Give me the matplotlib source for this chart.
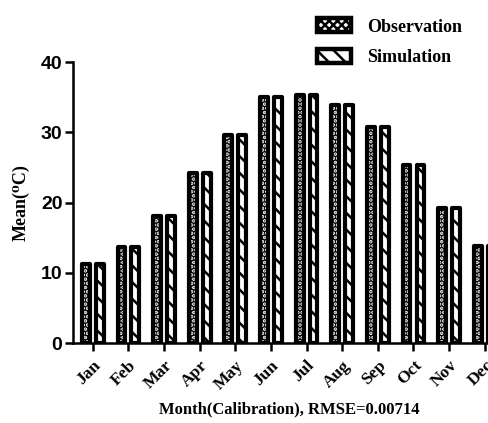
import numpy as np
import matplotlib.pyplot as plt
from matplotlib.patches import Patch

months = ['Jan', 'Feb', 'Mar', 'Apr', 'May', 'Jun', 'Jul', 'Aug', 'Sep', 'Oct', 'Nov', 'Dec']
observation = [11.3, 13.7, 18.1, 24.2, 29.6, 35.0, 35.3, 33.9, 30.8, 25.3, 19.2, 13.8]
simulation = [11.3, 13.7, 18.1, 24.2, 29.6, 35.0, 35.3, 33.9, 30.8, 25.3, 19.2, 13.8]

plt.rcParams['hatch.linewidth'] = 1.8
serif = ['Liberation Serif', 'DejaVu Serif']

fig = plt.figure(figsize=(4.89, 4.23), dpi=100)
ax = fig.add_axes([0.149, 0.189, 0.886, 0.664])

x = np.arange(len(months))
w = 0.22
off = 0.195
lw = 3.0
# observation: black with white dots, thick black outline
ax.bar(x - off, observation, w, facecolor='black', edgecolor='white', hatch='....', linewidth=0)
ax.bar(x - off, observation, w, fill=False, edgecolor='black', linewidth=lw, joinstyle='round')
# simulation: white with black diagonal stripes
ax.bar(x + off, simulation, w, facecolor='white', edgecolor='black', hatch='\\\\', linewidth=0)
ax.bar(x + off, simulation, w, fill=False, edgecolor='black', linewidth=lw, joinstyle='round')

ax.set_xlim(-0.56, 11.6)
ax.set_ylim(0, 40)
ax.set_yticks([0, 10, 20, 30, 40])
ax.set_xticks(x)
ax.set_xticklabels(months, rotation=45, ha='right', rotation_mode='anchor',
                   fontfamily=serif, fontweight='bold', fontsize=12.5)
for lab in ax.get_yticklabels():
    lab.set_fontfamily('Liberation Sans')
    lab.set_fontweight('bold')
    lab.set_fontsize(14)

ax.spines['top'].set_visible(False)
ax.spines['right'].set_visible(False)
ax.spines['left'].set_linewidth(1.8)
ax.spines['bottom'].set_linewidth(1.8)
ax.tick_params(axis='both', width=1.8, length=5.5, direction='out', pad=2)
ax.tick_params(axis='x', pad=5)

ax.set_ylabel('Mean(⁰C)', fontfamily=serif, fontweight='bold', fontsize=13, labelpad=8)
ax.set_xlabel('Month(Calibration), RMSE=0.00714', fontfamily=serif, fontweight='bold', fontsize=12, labelpad=6)

handles = [Patch(facecolor='white', edgecolor='black', hatch='xxxx', linewidth=3.2, label='Observation'),
           Patch(facecolor='white', edgecolor='black', hatch='\\\\', linewidth=3.2, label='Simulation')]
fig.legend(handles=handles, loc='upper left', bbox_to_anchor=(0.615, 0.995), frameon=False,
           prop={'family': serif, 'weight': 'bold', 'size': 13}, handlelength=1.9, handleheight=0.8,
           labelspacing=0.75, handletextpad=0.9)

fig.savefig('out.png', dpi=100)
